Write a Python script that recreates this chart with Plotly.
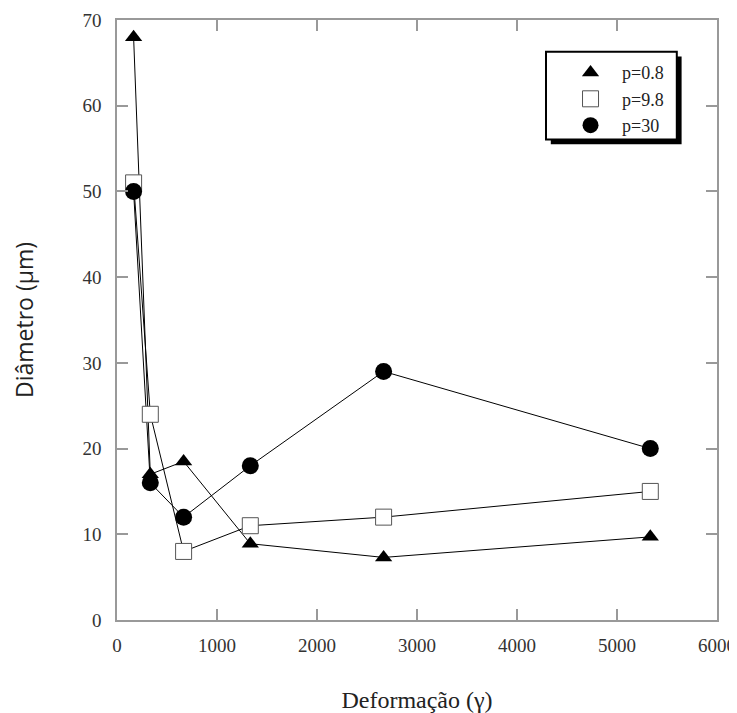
import plotly.graph_objects as go

deformacao = [166, 333, 666, 1333, 2666, 5333]
p08 = [68, 17, 18.5, 8.9, 7.3, 9.7]
p98 = [51, 24, 8, 11, 12, 15]
p30 = [50, 16, 12, 18, 29, 20]

series = [
    ("p=0.8", p08, dict(symbol="triangle-up", size=15, color="black")),
    ("p=9.8", p98, dict(symbol="square", size=16, color="white", line=dict(color="#555", width=1))),
    ("p=30", p30, dict(symbol="circle", size=17, color="black")),
]

fig = go.Figure()
for name, ys, mk in series:
    fig.add_trace(go.Scatter(x=deformacao, y=ys, mode="lines", line=dict(color="black", width=1),
                             showlegend=False, hoverinfo="skip"))
for name, ys, mk in series:
    fig.add_trace(go.Scatter(x=deformacao, y=ys, mode="markers", marker=mk, name=name))

serif = "Liberation Serif"
axis_common = dict(showline=True, linecolor="#999", linewidth=1.5, mirror="ticks", ticks="inside",
                   ticklen=11, tickcolor="#999", tickwidth=1.5, showgrid=False, zeroline=False,
                   automargin=False, tickfont=dict(family=serif, size=19, color="#333"))

fig.update_xaxes(range=[0, 6000], dtick=1000, ticklabelstandoff=7, **axis_common,
                 title=dict(text="Deformação (γ)", font=dict(family=serif, size=24, color="#222"), standoff=37))
fig.update_yaxes(range=[0, 70], dtick=10, ticklabelstandoff=10, **axis_common,
                 title=dict(text="Diâmetro (µm)", font=dict(family="Open Sans", size=23, color="#222"), standoff=47))

# legend box with shadow (paper coordinates)
fig.add_shape(type="rect", xref="paper", yref="paper", x0=0.723, x1=0.941, y0=0.793, y1=0.939,
              fillcolor="black", line=dict(width=0), layer="above")
fig.add_shape(type="rect", xref="paper", yref="paper", x0=0.715, x1=0.933, y0=0.801, y1=0.947,
              fillcolor="white", line=dict(color="black", width=2), layer="above")

fig.update_layout(
    width=729, height=705,
    margin=dict(l=109, r=20, t=12, b=93),
    plot_bgcolor="white", paper_bgcolor="white",
    legend=dict(x=0.7367, y=0.943, xanchor="left", yanchor="top",
                bgcolor="rgba(0,0,0,0)", borderwidth=0,
                font=dict(family=serif, size=18, color="#222"),
                tracegroupgap=0, itemwidth=53),
    showlegend=True,
)

fig.write_html("out.html")
